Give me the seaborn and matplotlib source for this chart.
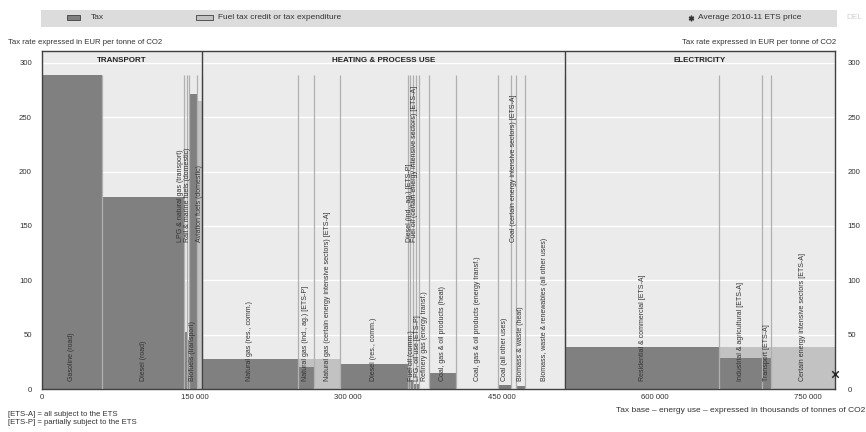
import matplotlib
matplotlib.use("Agg")
import matplotlib.pyplot as plt
import seaborn as sns
import numpy as np
import pandas as pd
from matplotlib.patches import Rectangle
from matplotlib.lines import Line2D

# ---------------- data ----------------
sectors = (["TRANSPORT"] * 6
           + ["HEATING & PROCESS USE"] * 15
           + ["ELECTRICITY"] * 4)

categories = [
    "Gasoline (road)", "Diesel (road)", "LPG & natural gas (transport)",
    "Rail & marine fuels (domestic)", "Biofuels (transport)", "Aviation fuels (domestic)",
    "Natural gas (res., comm.)", "Natural gas (ind., ag.) [ETS-P]",
    "Natural gas (certain energy intensive sectors) [ETS-A]", "Diesel (res., comm.)",
    "Diesel (ind., ag.) [ETS-P]", "Fuel oil (comm.)",
    "Fuel oil (certain energy intensive sectors) [ETS-A]", "LPG, oil use [ETS-P]",
    "Refinery gas (energy transf.)", "Coal, gas & oil products (heat)",
    "Coal, gas & oil products (energy transf.)", "Coal (all other uses)",
    "Coal (certain energy intensive sectors) [ETS-A]", "Biomass & waste (heat)",
    "Biomass, waste & renewables (all other uses)",
    "Residential & commercial [ETS-A]", "Industrial & agricultural [ETS-A]",
    "Transport [ETS-A]", "Certain energy intensive sectors [ETS-A]",
]

# tax base, thousands of tonnes of CO2
tax_base = [59300, 80200, 2200, 2100, 8400, 4600,
            93900, 15650, 25800, 66000, 2600, 3000, 2400, 3400, 9300,
            26800, 40800, 13100, 4300, 8800, 39350,
            151000, 42100, 8200, 63000]

# tax rate, EUR per tonne of CO2
tax_rate = [289, 176.6, 52, 45, 271, 0,
            27.3, 20.5, 0, 23, 20, 8, 5, 5, 0,
            14.4, 0, 3.5, 0, 2.5, 0,
            38.4, 28.8, 28.8, 0]

# fuel tax credit or tax expenditure, EUR per tonne of CO2
tax_credit = [0, 0, 0, 0, 0, 265,
              0, 6.8, 27.3, 0, 0, 0, 0, 0, 0,
              0, 0, 0, 0, 0, 0,
              0, 9.6, 9.6, 38.4]

ets_price = 13.5

x_ticks = [0, 150000, 300000, 450000, 600000, 750000]
x_tick_labels = ["0", "150 000", "300 000", "450 000", "600 000", "750 000"]
y_ticks = [0, 50, 100, 150, 200, 250, 300]

# labels drawn higher up (layout only)
raised_labels = {"LPG & natural gas (transport)", "Rail & marine fuels (domestic)",
                 "Aviation fuels (domestic)", "Diesel (ind., ag.) [ETS-P]",
                 "Fuel oil (certain energy intensive sectors) [ETS-A]",
                 "Coal (certain energy intensive sectors) [ETS-A]"}
# labels anchored at the left edge of their bar (layout only)
left_anchored = {"LPG & natural gas (transport)"}

df = pd.DataFrame({"sector": sectors, "category": categories,
                   "base": tax_base, "tax": tax_rate, "credit": tax_credit})
df["right"] = df["base"].cumsum()
df["left"] = df["right"] - df["base"]
x_max = df["right"].iloc[-1]

# ---------------- style ----------------
sns.set_theme(style="darkgrid", rc={"axes.facecolor": "#EBEBEB",
                                    "grid.color": "white"})
plt.rcParams["font.family"] = ["Liberation Sans", "DejaVu Sans"]

DARK = "#808080"
LIGHT = "#C2C2C2"
TXT = "#333333"
FS = 5.6
FS_L = 6.0

fig = plt.figure(figsize=(8.66, 4.32), dpi=100)
ax = fig.add_axes([41.7 / 866, 1 - 389 / 432, (835 - 41.7) / 866, (389 - 51) / 432])

ax.bar(df["left"], df["tax"], width=df["base"], align="edge",
       color=DARK, edgecolor="none", linewidth=0, zorder=2)
ax.bar(df["left"], df["credit"], bottom=df["tax"], width=df["base"], align="edge",
       color=LIGHT, edgecolor="none", linewidth=0, zorder=2)

# segment separators
max_h = (df["tax"] + df["credit"]).max()
inner = df["right"].iloc[:-1]
ax.vlines(inner, 0, max_h, color="#B0B0B0", lw=0.9, zorder=3)

# sector separators and headers
for name, g in df.groupby("sector", sort=False):
    lo, hi = g["left"].min(), g["right"].max()
    if lo > 0:
        ax.axvline(lo, color="#404040", lw=1.0, zorder=4)
    ax.text((lo + hi) / 2, 302, name, ha="center", va="center",
            fontsize=5.8, fontweight="bold", color="#222222", zorder=5)

# bar labels
for _, r in df.iterrows():
    y0 = 135 if r["category"] in raised_labels else 7
    if r["category"] in left_anchored:
        xpos, ha = r["left"], "right"
    else:
        xpos, ha = (r["left"] + r["right"]) / 2, "center"
    ax.text(xpos, y0, r["category"], rotation=90,
            ha=ha, va="bottom", fontsize=5.0, color=TXT, zorder=5)

# ETS price marker
sns.scatterplot(x=[x_max], y=[ets_price], marker="x", color="#222222", s=22,
                linewidth=1.0, ax=ax, zorder=6, clip_on=False, legend=False)

ax.set_xlim(0, x_max)
ax.set_ylim(0, 311)
ax.set_yticks(y_ticks)
ax.set_yticklabels([str(v) for v in y_ticks])
ax.set_xticks(x_ticks)
ax.set_xticklabels(x_tick_labels)
ax.grid(axis="x", visible=False)
ax.grid(axis="y", color="white", lw=1.0)
ax.tick_params(axis="both", length=0, labelsize=FS, labelcolor=TXT)
ax.tick_params(axis="y", pad=7)
ax.tick_params(axis="x", pad=3.5)
ax.set_xlabel("")
ax.set_ylabel("")
for s in ax.spines.values():
    s.set_visible(True)
    s.set_color("#404040")
    s.set_linewidth(1.0)

ax2 = ax.twinx()
ax2.set_ylim(ax.get_ylim())
ax2.set_yticks(y_ticks)
ax2.set_yticklabels([str(v) for v in y_ticks])
ax2.grid(False)
ax2.tick_params(axis="y", length=0, labelsize=FS, labelcolor=TXT, pad=9)
for s in ax2.spines.values():
    s.set_visible(False)

# axis titles and notes
fig.text(8 / 866, 1 - 43 / 432, "Tax rate expressed in EUR per tonne of CO2",
         fontsize=FS, color=TXT, ha="left", va="center")
fig.text(836 / 866, 1 - 43 / 432, "Tax rate expressed in EUR per tonne of CO2",
         fontsize=FS, color=TXT, ha="right", va="center")
fig.text(865 / 866, 1 - 411 / 432,
         "Tax base \u2013 energy use \u2013 expressed in thousands of tonnes of CO2",
         fontsize=FS_L, color=TXT, ha="right", va="center")
fig.text(8 / 866, 1 - 414 / 432, "[ETS-A] = all subject to the ETS",
         fontsize=FS, color=TXT, ha="left", va="center")
fig.text(8 / 866, 1 - 422 / 432, "[ETS-P] = partially subject to the ETS",
         fontsize=FS, color=TXT, ha="left", va="center")

# legend band
fig.patches.append(Rectangle((41 / 866, 1 - 27 / 432), (837 - 41) / 866, 17 / 432,
                             transform=fig.transFigure, facecolor="#DCDCDC",
                             edgecolor="none", zorder=0))
fig.patches.append(Rectangle((67 / 866, 1 - 20 / 432), 13 / 866, 5 / 432,
                             transform=fig.transFigure, facecolor=DARK,
                             edgecolor="#404040", lw=0.6, zorder=1))
fig.text(91 / 866, 1 - 17.5 / 432, "Tax", fontsize=FS_L, color=TXT, ha="left", va="center")
fig.patches.append(Rectangle((196 / 866, 1 - 20 / 432), 17 / 866, 5 / 432,
                             transform=fig.transFigure, facecolor=LIGHT,
                             edgecolor="#404040", lw=0.6, zorder=1))
fig.text(218 / 866, 1 - 17.5 / 432, "Fuel tax credit or tax expenditure",
         fontsize=FS_L, color=TXT, ha="left", va="center")
fig.lines.append(Line2D([691 / 866], [1 - 17.5 / 432], transform=fig.transFigure,
                        marker=(6, 2, 0), markersize=4, color="#333333", lw=0.6))
fig.text(698 / 866, 1 - 17.5 / 432, "Average 2010-11 ETS price",
         fontsize=FS_L, color=TXT, ha="left", va="center")
fig.text(846 / 866, 1 - 17.5 / 432, "DEL", fontsize=FS_L, color="#D0D0D0",
         ha="left", va="center")

fig.savefig("out.png", dpi=100)
